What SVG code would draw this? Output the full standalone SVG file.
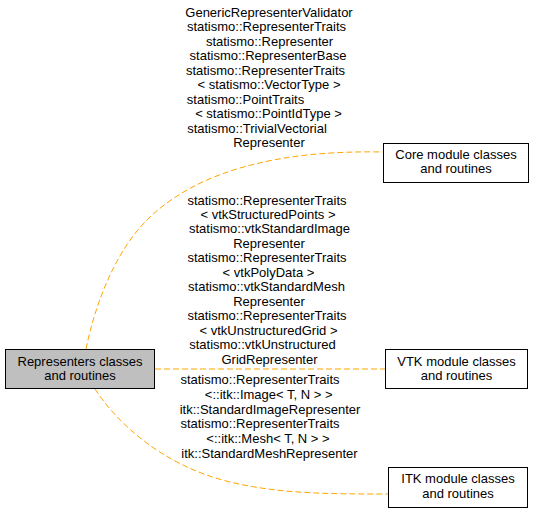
<svg xmlns="http://www.w3.org/2000/svg" width="535" height="514" viewBox="0 0 535 514">
<style>
text{font-family:"Liberation Sans",Arial,Helvetica,sans-serif;font-size:13px;fill:#000;text-anchor:middle}
.box{stroke:#000;stroke-width:1}
.edge{fill:none;stroke:#ffa500;stroke-width:1;stroke-dasharray:6,3}
</style>
<rect width="535" height="514" fill="#fff"/>
<g id="connectors">
<path class="edge" d="M86,349 C95,305 115,250 150,217 C200,170 280,150 383,152"/>
<path class="edge" d="M155,369 H385"/>
<path class="edge" d="M95,389 C115,420 160,465 230,482 C280,494 330,494 388,494"/>
<g id="label-core">
<text x="269" y="16.5">GenericRepresenterValidator</text>
<text x="266.5" y="31">statismo::RepresenterTraits</text>
<text x="269.5" y="45.5">statismo::Representer</text>
<text x="268" y="60">statismo::RepresenterBase</text>
<text x="265.5" y="74.5">statismo::RepresenterTraits</text>
<text x="269" y="89">&lt; statismo::VectorType &gt;</text>
<text x="245.5" y="103.5">statismo::PointTraits</text>
<text x="268.5" y="118">&lt; statismo::PointIdType &gt;</text>
<text x="257" y="132.5">statismo::TrivialVectorial</text>
<text x="269" y="147">Representer</text>
</g>
<g id="label-vtk">
<text x="267" y="204.5">statismo::RepresenterTraits</text>
<text x="268" y="219">&lt; vtkStructuredPoints &gt;</text>
<text x="269.5" y="233.4">statismo::vtkStandardImage</text>
<text x="269" y="247.9">Representer</text>
<text x="267" y="262.3">statismo::RepresenterTraits</text>
<text x="268.5" y="276.8">&lt; vtkPolyData &gt;</text>
<text x="266.5" y="291.2">statismo::vtkStandardMesh</text>
<text x="269" y="305.7">Representer</text>
<text x="267" y="320.1">statismo::RepresenterTraits</text>
<text x="268.5" y="334.6">&lt; vtkUnstructuredGrid &gt;</text>
<text x="262.5" y="349">statismo::vtkUnstructured</text>
<text x="269.5" y="363.5">GridRepresenter</text>
</g>
<g id="label-itk">
<text x="260" y="384">statismo::RepresenterTraits</text>
<text x="268.7" y="398.8">&lt;::itk::Image&lt; T, N &gt; &gt;</text>
<text x="270" y="413.6">itk::StandardImageRepresenter</text>
<text x="260" y="428.4">statismo::RepresenterTraits</text>
<text x="268" y="443.2">&lt;::itk::Mesh&lt; T, N &gt; &gt;</text>
<text x="269.5" y="458">itk::StandardMeshRepresenter</text>
</g>
</g>
<g id="node-representers">
<rect class="box" x="5.5" y="349.5" width="149" height="39" fill="#bfbfbf"/>
<text x="80" y="366">Representers classes</text>
<text x="80" y="380">and routines</text>
</g>
<g id="node-core">
<rect class="box" x="383.5" y="143.5" width="145" height="39" fill="#fff"/>
<text x="456" y="158.5">Core module classes</text>
<text x="456" y="172.5">and routines</text>
</g>
<g id="node-vtk">
<rect class="box" x="385.5" y="349.5" width="142" height="39" fill="#fff"/>
<text x="456.5" y="366">VTK module classes</text>
<text x="456.5" y="380">and routines</text>
</g>
<g id="node-itk">
<rect class="box" x="388.5" y="467.5" width="139" height="40" fill="#fff"/>
<text x="458" y="483">ITK module classes</text>
<text x="458" y="497.5">and routines</text>
</g>
</svg>
